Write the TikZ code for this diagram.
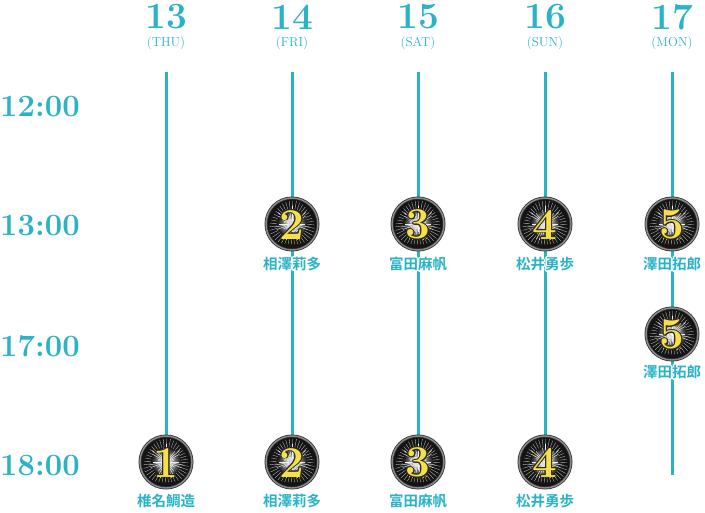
\documentclass[tikz,border=0pt]{standalone}
\usepackage{fontspec}
\usepackage[copies]{contour}
\newfontfamily\jpfont{Noto Sans CJK JP}[BoldFont=* Bold]
\definecolor{teal1}{HTML}{2AB3C7}
\definecolor{gold1}{HTML}{F6E04A}
\definecolor{rim}{HTML}{2E2A22}
\tikzset{
  x=1pt,y=-1pt,
  vline/.style={draw=teal1,line width=3pt},
  daynum/.style={text=teal1,font=\fontsize{37}{37}\selectfont\bfseries,inner sep=0},
  dayname/.style={text=teal1,font=\fontsize{13}{13}\selectfont\addfontfeature{LetterSpace=10},inner sep=0},
  timelbl/.style={text=teal1,font=\fontsize{31}{31}\selectfont\bfseries,inner sep=0,anchor=west},
  namelbl/.style={font=\jpfont\bfseries\fontsize{14.5}{14.5}\selectfont,inner sep=0},
}
\contournumber{12}
\newcommand{\badgeat}[4]{% name, x, y, number
  \begin{scope}[shift={(#2,#3)}]
    \fill[black!80] (0,0) circle (27.5);
    \draw[black!45,line width=1.4pt] (0,0) circle (26);
    \fill[black!92] (0,0) circle (24.5);
    \foreach \a in {2,11,...,353}
      \draw[gray!50,line width=0.35pt] (\a:12) -- (\a:{22+1.5*sin(3*\a)});
    \shade[inner color=white,outer color=black!92] (0,0) circle (15);
    \foreach \a in {0,10,...,350}
      \draw[white!90!gray,line width=0.45pt] (\a:3) -- (\a:{13+5*sin(7*\a)});
  \end{scope}
  \node[inner sep=0,font=\fontsize{44}{44}\selectfont\bfseries] (#1) at (#2,#3+1)
    {\contourlength{0.8pt}\contour{rim}{\textcolor{gold1}{#4}}};
}
\begin{document}
\begin{tikzpicture}
\useasboundingbox (0,0) rectangle (705,513);
% column headers
\foreach \n/\d/\x in {13/THU/166,14/FRI/292,15/SAT/418,16/SUN/545,17/MON/672}{
  \node[daynum] (h\n) at (\x,17) {\n};
  \node[dayname] (d\n) at (\x,43) {(\d)};
}
% time labels
\node[timelbl] (t12) at (0,107) {12:00};
\node[timelbl] (t13) at (0,226) {13:00};
\node[timelbl] (t17) at (0,346) {17:00};
\node[timelbl] (t18) at (0,466) {18:00};
% timeline lines
\coordinate (s13) at (166,72); \coordinate (e13) at (166,440);
\coordinate (s14) at (292,72); \coordinate (e14) at (292,460);
\coordinate (s15) at (418,72); \coordinate (e15) at (418,460);
\coordinate (s16) at (545,72); \coordinate (e16) at (545,460);
\coordinate (s17) at (672,72); \coordinate (e17) at (672,475);
\foreach \n in {13,14,15,16,17} \draw[vline] (s\n) -- (e\n);
% badges
\badgeat{b2a}{292}{224}{2}
\badgeat{b3a}{418}{224}{3}
\badgeat{b4a}{545}{224}{4}
\badgeat{b5a}{672}{224}{5}
\badgeat{b5b}{672}{334}{5}
\badgeat{b1}{166}{462}{1}
\badgeat{b2b}{292}{462}{2}
\badgeat{b3b}{418}{462}{3}
\badgeat{b4b}{545}{462}{4}
% names
\contourlength{1.3pt}
\node[namelbl] (n2a) at (292,265) {\contour{white}{\textcolor{teal1}{相澤莉多}}};
\node[namelbl] (n3a) at (418,265) {\contour{white}{\textcolor{teal1}{富田麻帆}}};
\node[namelbl] (n4a) at (545,265) {\contour{white}{\textcolor{teal1}{松井勇歩}}};
\node[namelbl] (n5a) at (672,265) {\contour{white}{\textcolor{teal1}{澤田拓郎}}};
\node[namelbl] (n5b) at (672,373) {\contour{white}{\textcolor{teal1}{澤田拓郎}}};
\node[namelbl] (n1)  at (166,502) {\contour{white}{\textcolor{teal1}{椎名鯛造}}};
\node[namelbl] (n2b) at (292,502) {\contour{white}{\textcolor{teal1}{相澤莉多}}};
\node[namelbl] (n3b) at (418,502) {\contour{white}{\textcolor{teal1}{富田麻帆}}};
\node[namelbl] (n4b) at (545,502) {\contour{white}{\textcolor{teal1}{松井勇歩}}};
\end{tikzpicture}
\end{document}
